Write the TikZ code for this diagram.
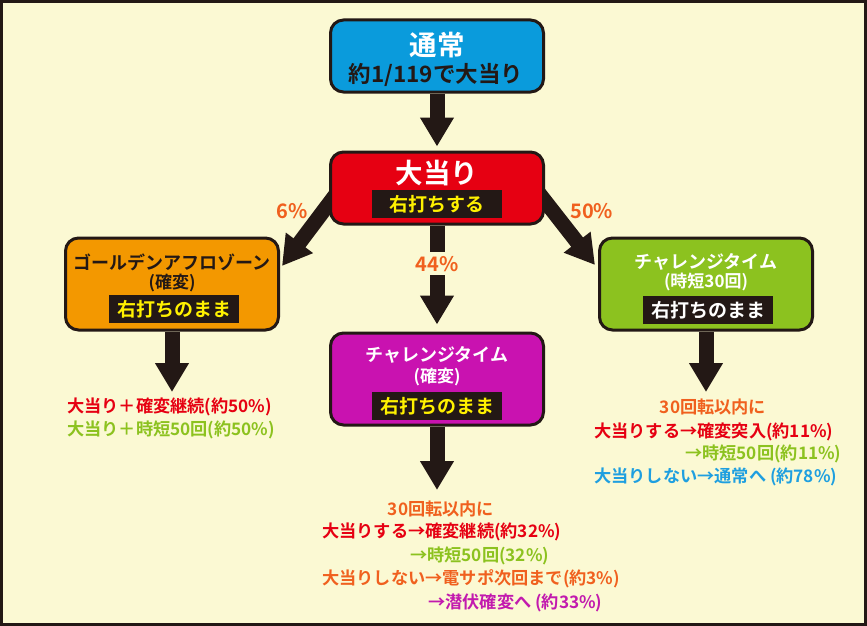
\documentclass[tikz,border=0pt]{standalone}
\usepackage{fontspec}
\setmainfont{Noto Sans CJK JP}[BoldFont={Noto Sans CJK JP Bold}]
\usetikzlibrary{arrows.meta}
\pgfdeclarelayer{back}
\pgfsetlayers{back,main}
\definecolor{cream}{HTML}{FBF9D3}
\definecolor{ink}{HTML}{231815}
\definecolor{tsujoblue}{HTML}{0A9BDC}
\definecolor{oatarired}{HTML}{E60012}
\definecolor{goldorange}{HTML}{F39800}
\definecolor{kakuhenmagenta}{HTML}{C912B0}
\definecolor{jitangreen}{HTML}{8CC21F}
\definecolor{bandyellow}{HTML}{FFF100}
\definecolor{rateorange}{HTML}{F0601E}
\definecolor{notered}{HTML}{E60012}
\definecolor{notegreen}{HTML}{8CC21F}
\definecolor{noteblue}{HTML}{1E9FE0}
\definecolor{notemagenta}{HTML}{C21AAE}
\newcommand{\fs}[1]{\fontsize{#1}{#1}\selectfont}
\begin{document}
\begin{tikzpicture}[x=1pt,y=-1pt]
	\tikzstyle{part}=[rectangle, rounded corners=13pt, line width=3pt, draw=ink, minimum width=213pt]
	\tikzstyle{band}=[fill=ink, inner sep=0pt, minimum width=130pt, minimum height=28pt, font=\bfseries\fs{19}]
	\tikzstyle{flow}=[draw=ink, line width=15pt, -{Triangle[length=29pt,width=32pt]}]
	\tikzstyle{title}=[inner sep=0pt, font=\bfseries\fs{18}]
	\tikzstyle{note}=[inner sep=0pt, font=\bfseries\fs{17.2}]
	\tikzstyle{rate}=[text=rateorange, inner sep=0pt, font=\bfseries\fs{20}]
	\useasboundingbox (0,0) rectangle (867,626);

	% boxes
	\node[part, fill=tsujoblue, minimum height=72pt] (tsujo) at (437,56) {};
	\node[title, text=white, font=\bfseries\fs{27.5}] (tsujotitle) at (437,45) {通常};
	\node[title, text=ink, font=\bfseries\fs{22.5}] (tsujorate) at (436,75) {約1/119で大当り};

	\node[part, fill=oatarired, minimum height=72pt] (oatari) at (437,188) {};
	\node[title, text=white, font=\bfseries\fs{27.5}] (oatarititle) at (437,173) {大当り};
	\node[band, text=bandyellow] (oatariband) at (437,204) {右打ちする};

	\node[part, fill=goldorange, minimum height=92pt] (golden) at (172,284) {};
	\node[title, text=ink] (goldentitle) at (172,262) {ゴールデンアフロゾーン};
	\node[title, text=ink, font=\bfseries\fs{17}] (goldensub) at (172,283) {(確変)};
	\node[band, text=bandyellow] (goldenband) at (174,309) {右打ちのまま};

	\node[part, fill=kakuhenmagenta, minimum height=92pt] (kakuhen) at (437,379) {};
	\node[title, text=white] (kakuhentitle) at (437,355) {チャレンジタイム};
	\node[title, text=white, font=\bfseries\fs{17}] (kakuhensub) at (437,377) {(確変)};
	\node[band, text=bandyellow] (kakuhenband) at (437,406) {右打ちのまま};

	\node[part, fill=jitangreen, minimum height=92pt] (jitan) at (706,284) {};
	\node[title, text=white] (jitantitle) at (706,262) {チャレンジタイム};
	\node[title, text=white, font=\bfseries\fs{17}] (jitansub) at (706,282) {(時短30回)};
	\node[band, text=white] (jitanband) at (708,310) {右打ちのまま};

	% free ends of the lower arrows
	\coordinate (goldenend) at (172,392);
	\coordinate (kakuhenend) at (437,490);
	\coordinate (jitanend) at (706,392);

	% results
	\node[note, text=notered, anchor=west] (golden1) at (67,407) {大当り＋確変継続(約50\%)};
	\node[note, text=notegreen, anchor=west] (golden2) at (67,430) {大当り＋時短50回(約50\%)};

	\node[note, text=rateorange] (kakuhen0) at (441,509) {30回転以内に};
	\node[note, text=notered, anchor=west] (kakuhen1) at (322,532) {大当りする→確変継続(約32\%)};
	\node[note, text=notegreen, anchor=west] (kakuhen2) at (410,556) {→時短50回(32\%)};
	\node[note, text=rateorange, anchor=west] (kakuhen3) at (322,579) {大当りしない→電サポ次回まで(約3\%)};
	\node[note, text=notemagenta, anchor=west] (kakuhen4) at (428,603) {→潜伏確変へ (約33\%)};

	\node[note, text=rateorange] (jitan0) at (713,407) {30回転以内に};
	\node[note, text=notered, anchor=west] (jitan1) at (594,432) {大当りする→確変突入(約11\%)};
	\node[note, text=notegreen, anchor=west] (jitan2) at (685,454) {→時短50回(約11\%)};
	\node[note, text=noteblue, anchor=west] (jitan3) at (594,477) {大当りしない→通常へ (約78\%)};

	% frame and arrows behind the boxes
	\begin{pgfonlayer}{back}
		\draw[fill=cream, draw=ink, line width=3pt] (1.5,1.5) rectangle (865.5,624.5);
		\draw[flow, shorten >=4pt] (tsujo.south) -- (oatari.north);
		\draw[flow] ([xshift=14pt,yshift=3pt]oatari.west) -- node[rate, pos=0.32, left=8pt] (rate6) {6\%} ([xshift=2pt,yshift=18pt]golden.east);
		\draw[flow] ([xshift=-13pt,yshift=3.6pt]oatari.east) -- node[rate, pos=0.33, right=10pt] (rate50) {50\%} ([xshift=-3pt,yshift=19pt]jitan.west);
		\draw[flow, shorten >=7pt] (oatari.south) -- node[rate, pos=0.36, fill=cream, minimum height=23pt] (rate44) {44\%} (kakuhen.north);
		\draw[flow] (golden.south) -- (goldenend);
		\draw[flow] (kakuhen.south) -- (kakuhenend);
		\draw[flow] (jitan.south) -- (jitanend);
	\end{pgfonlayer}
\end{tikzpicture}
\end{document}
